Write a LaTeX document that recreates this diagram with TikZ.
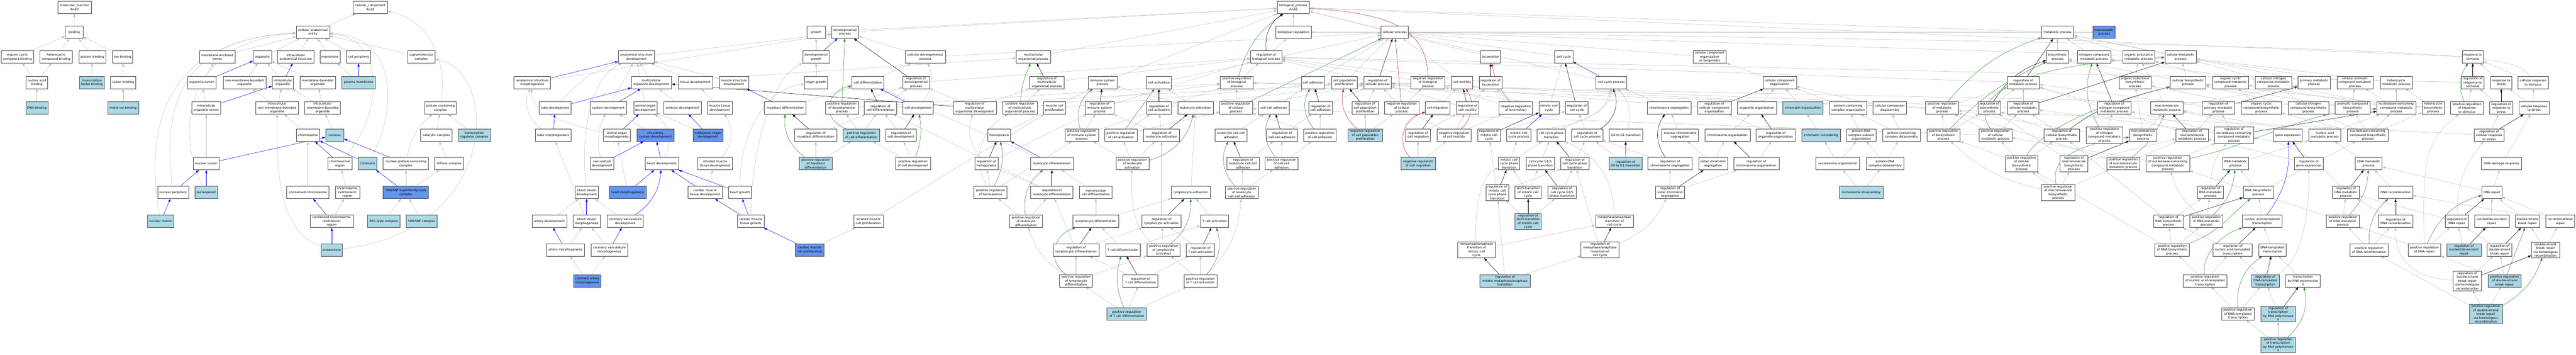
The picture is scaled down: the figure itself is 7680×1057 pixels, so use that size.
\documentclass[tikz,border=0pt]{standalone}
\usepackage{fontspec}
\setmainfont{DejaVu Sans}
\usetikzlibrary{arrows.meta,backgrounds}
\definecolor{hitblue}{HTML}{ADD8E6}
\definecolor{keyblue}{HTML}{6495ED}
\definecolor{edgegray}{HTML}{BEBEBE}
\definecolor{posgreen}{HTML}{228B22}
\definecolor{negred}{HTML}{B22222}
\begin{document}
\begin{tikzpicture}[x=1pt,y=1pt,
    term/.style={draw=black!72,line width=1pt,fill=white,align=center,minimum height=37pt,inner xsep=2pt,inner ysep=2.5pt,font=\fontsize{9.2}{11.5}\selectfont},
    hitterm/.style={term,fill=hitblue},
    keyterm/.style={term,fill=keyblue},
    boxw/.style={minimum width=#1},
    isa/.style={draw=edgegray,line width=0.8pt,-{Triangle[length=9pt,width=6.5pt]}},
    partof/.style={isa,draw=blue},
    reg/.style={isa,draw=black},
    posreg/.style={isa,draw=posgreen},
    negreg/.style={isa,draw=negred}]
\useasboundingbox (0,0) rectangle (7680,-1057);

\node[term,boxw=100] (mf) at (222,-22) {molecular\_function\\Arid2};
\node[term,boxw=55] (binding) at (221,-96) {binding};
\node[term,boxw=97] (orgcyc) at (52,-170) {organic cyclic\\compound binding};
\node[term,boxw=96] (hetcyc) at (167,-170) {heterocyclic\\compound binding};
\node[term,boxw=80] (protbind) at (275,-170) {protein binding};
\node[term,boxw=60] (ionbind) at (366,-170) {ion binding};
\node[term,boxw=64] (nucacid) at (110,-246) {nucleic acid\\binding};
\node[hitterm,boxw=74] (tfbind) at (274,-246) {transcription\\factor binding};
\node[term,boxw=76] (cation) at (367,-246) {cation binding};
\node[hitterm,boxw=66] (dnabind) at (110,-322) {DNA binding};
\node[hitterm,boxw=92] (metalion) at (367,-322) {metal ion binding};

\node[term,boxw=103] (cc) at (1104,-22) {cellular\_component\\Arid2};
\node[term,boxw=100] (cae) at (933,-96) {cellular anatomical\\entity};
\node[term,boxw=107] (mel) at (648,-170) {membrane-enclosed\\lumen};
\node[term,boxw=55] (organelle) at (782,-170) {organelle};
\node[term,boxw=109] (ias) at (882,-170) {intracellular\\anatomical structure};
\node[term,boxw=60] (membrane) at (984,-170) {membrane};
\node[term,boxw=73] (cellperiph) at (1069,-170) {cell periphery};
\node[term,boxw=82] (supramol) at (1256,-170) {supramolecular\\complex};
\node[term,boxw=85] (orglumen) at (602,-246) {organelle lumen};
\node[term,boxw=127] (nmbo) at (729,-246) {non-membrane-bounded\\organelle};
\node[term,boxw=64] (io) at (843,-246) {intracellular\\organelle};
\node[term,boxw=106] (mbo) at (947,-246) {membrane-bounded\\organelle};
\node[hitterm,boxw=99] (plasmamem) at (1069,-246) {plasma membrane};
\node[term,boxw=86] (iol) at (615,-322) {intracellular\\organelle lumen};
\node[term,boxw=128] (inmbo) at (826,-322) {intracellular\\non-membrane-bounded\\organelle};
\node[term,boxw=106] (imbo) at (962,-322) {intracellular\\membrane-bounded\\organelle};
\node[term,boxw=95] (protcomplex) at (1313,-322) {protein-containing\\complex};
\node[term,boxw=70] (chromosome) at (918,-403) {chromosome};
\node[hitterm,boxw=55] (nucleus) at (998,-403) {nucleus};
\node[term,boxw=94] (catalytic) at (1301,-403) {catalytic complex};
\node[hitterm,boxw=96] (transreg) at (1414,-403) {transcription\\regulator complex};
\node[term,boxw=76] (nuclumen) at (615,-488) {nuclear lumen};
\node[term,boxw=72] (chromreg) at (1013,-488) {chromosomal\\region};
\node[hitterm,boxw=55] (chromatin) at (1096,-488) {chromatin};
\node[term,boxw=135] (nucprotcomplex) at (1210,-488) {nuclear protein-containing\\complex};
\node[term,boxw=86] (atpase) at (1339,-488) {ATPase complex};
\node[term,boxw=92] (nucperiph) at (516,-574) {nuclear periphery};
\node[hitterm,boxw=68] (nucleoplasm) at (615,-574) {nucleoplasm};
\node[term,boxw=126] (condchrom) at (918,-574) {condensed chromosome};
\node[term,boxw=72] (chromcent) at (1036,-574) {chromosome,\\centromeric\\region};
\node[keyterm,boxw=135] (swisnfsf) at (1210,-574) {SWI/SNF superfamily-type\\complex};
\node[hitterm,boxw=78] (nucmatrix) at (479,-660) {nuclear matrix};
\node[term,boxw=129] (condchromcent) at (989,-660) {condensed chromosome,\\centromeric\\region};
\node[hitterm,boxw=96] (rsc) at (1144,-660) {RSC-type complex};
\node[hitterm,boxw=92] (swisnf) at (1257,-660) {SWI/SNF complex};
\node[hitterm,boxw=63] (kinetochore) at (989,-745) {kinetochore};

\node[term,boxw=96] (bp) at (3856,-22) {biological\_process\\Arid2};
\node[term,boxw=108] (asd) at (1897,-170) {anatomical structure\\development};
\node[term,boxw=109] (asm) at (1587,-246) {anatomical structure\\morphogenesis};
\node[term,boxw=120] (mod) at (1942,-246) {multicellular\\organism development};
\node[term,boxw=96] (tubedev) at (1655,-322) {tube development};
\node[term,boxw=109] (sysdev) at (1814,-322) {system development};
\node[term,boxw=69] (animorgdev) at (1924,-322) {animal organ\\development};
\node[term,boxw=106] (tubemorph) at (1649,-403) {tube morphogenesis};
\node[term,boxw=81] (aom) at (1839,-403) {animal organ\\morphogenesis};
\node[keyterm,boxw=110] (circsys) at (1954,-403) {circulatory\\system development};
\node[term,boxw=70] (vascdev) at (1795,-488) {vasculature\\development};
\node[term,boxw=70] (bvdev) at (1749,-574) {blood vessel\\development};
\node[keyterm,boxw=110] (heartmorph) at (1871,-574) {heart morphogenesis};
\node[term,boxw=103] (arterydev) at (1638,-660) {artery development};
\node[term,boxw=81] (bvmorph) at (1749,-660) {blood vessel\\morphogenesis};
\node[term,boxw=108] (cvd) at (1864,-660) {coronary vasculature\\development};
\node[term,boxw=114] (arterymorph) at (1686,-745) {artery morphogenesis};
\node[term,boxw=108] (cvm) at (1817,-745) {coronary vasculature\\morphogenesis};
\node[keyterm,boxw=82] (cam) at (1751,-837) {coronary artery\\morphogenesis};

\node[term,boxw=55] (growth) at (2433,-96) {growth};
\node[term,boxw=80] (devproc) at (2519,-96) {developmental\\process};
\node[term,boxw=80] (devgrowth) at (2433,-170) {developmental\\growth};
\node[term,boxw=103] (tissuedev) at (2073,-246) {tissue development};
\node[term,boxw=88] (musclestructdev) at (2188,-246) {muscle structure\\development};
\node[term,boxw=70] (organgrowth) at (2433,-246) {organ growth};
\node[term,boxw=95] (celldiff) at (2587,-246) {cell differentiation};
\node[term,boxw=112] (embryodev) at (2035,-322) {embryo development};
\node[term,boxw=73] (musctissdev) at (2146,-322) {muscle tissue\\development};
\node[term,boxw=125] (myoblastdiff) at (2341,-322) {myoblast differentiation};
\node[term,boxw=98] (posregdevproc) at (2510,-322) {positive regulation\\of developmental\\process};
\node[keyterm,boxw=88] (embryonicorgan) at (2111,-403) {embryonic organ\\development};
\node[term,boxw=125] (regmyoblast) at (2432,-403) {regulation of\\myoblast differentiation};
\node[hitterm,boxw=108] (posregcelldiff) at (2568,-403) {positive regulation\\of cell differentiation};
\node[term,boxw=100] (heartdev) at (1973,-488) {heart development};
\node[term,boxw=103] (striateddev) at (2132,-488) {striated muscle\\tissue development};
\node[hitterm,boxw=99] (posregmyoblast) at (2432,-488) {positive regulation\\of myoblast\\differentiation};
\node[term,boxw=103] (cmtd) at (2102,-574) {cardiac muscle\\tissue development};
\node[term,boxw=68] (heartgrowth) at (2206,-574) {heart growth};
\node[term,boxw=80] (cmtg) at (2238,-660) {cardiac muscle\\tissue growth};
\node[term,boxw=87] (smcp) at (2589,-660) {striated muscle\\cell proliferation};
\node[keyterm,boxw=86] (cmcp) at (2414,-745) {cardiac muscle\\cell proliferation};

\node[term,boxw=119] (cdp) at (2759,-170) {cellular developmental\\process};
\node[term,boxw=102] (mop) at (3081,-170) {multicellular\\organismal process};
\node[term,boxw=80] (regdevproc) at (2731,-246) {regulation of\\developmental\\process};
\node[term,boxw=102] (regmop) at (3121,-246) {regulation of\\multicellular\\organismal process};
\node[term,boxw=96] (regcelldiff) at (2625,-322) {regulation of\\cell differentiation};
\node[term,boxw=90] (celldev) at (2737,-322) {cell development};
\node[term,boxw=129] (regmod) at (2906,-322) {regulation of\\multicellular\\organismal development};
\node[term,boxw=102] (posregmop) at (3041,-322) {positive regulation\\of multicellular\\organismal process};
\node[term,boxw=66] (mcp) at (3144,-322) {muscle cell\\proliferation};
\node[term,boxw=90] (regcelldev) at (2686,-403) {regulation of\\cell development};
\node[term,boxw=68] (hemopoiesis) at (2979,-403) {hemopoiesis};
\node[term,boxw=99] (posregimmune) at (3225,-403) {positive regulation\\of immune system\\process};
\node[term,boxw=104] (posregcelldev) at (2722,-488) {positive regulation\\of cell development};
\node[term,boxw=68] (reghemo) at (2941,-488) {regulation of\\hemopoiesis};
\node[term,boxw=128] (leukdiff) at (3136,-488) {leukocyte differentiation};
\node[term,boxw=98] (posreghemo) at (2953,-574) {positive regulation\\of hemopoiesis};
\node[term,boxw=126] (regleukdiff) at (3136,-574) {regulation of\\leukocyte differentiation};
\node[term,boxw=96] (mononuc) at (3267,-574) {mononuclear\\cell differentiation};
\node[term,boxw=98] (posregleukdiff) at (3059,-660) {positive regulation\\of leukocyte\\differentiation};
\node[term,boxw=136] (lymphodiff) at (3267,-660) {lymphocyte differentiation};
\node[term,boxw=136] (reglymphodiff) at (3208,-745) {regulation of\\lymphocyte differentiation};
\node[term,boxw=98] (posreglymphodiff) at (3208,-837) {positive regulation\\of lymphocyte\\differentiation};

\node[term,boxw=106] (biolreg) at (3856,-96) {biological regulation};
\node[term,boxw=94] (regbioproc) at (3775,-170) {regulation of\\biological process};
\node[term,boxw=86] (immunesys) at (3287,-246) {immune system\\process};
\node[term,boxw=75] (cellact) at (3455,-246) {cell activation};
\node[term,boxw=98] (posregbioproc) at (3687,-246) {positive regulation\\of biological\\process};
\node[term,boxw=86] (regimmune) at (3278,-322) {regulation of\\immune system\\process};
\node[term,boxw=75] (regcellact) at (3455,-322) {regulation of\\cell activation};
\node[term,boxw=106] (leukact) at (3564,-322) {leukocyte activation};
\node[term,boxw=98] (posregcellproc) at (3685,-322) {positive regulation\\of cellular\\process};
\node[term,boxw=92] (cellcelladh) at (3798,-322) {cell-cell adhesion};
\node[term,boxw=98] (posregcellact) at (3342,-403) {positive regulation\\of cell activation};
\node[term,boxw=107] (regleukact) at (3463,-403) {regulation of\\leukocyte activation};
\node[term,boxw=96] (leukcca) at (3670,-403) {leukocyte cell-cell\\adhesion};
\node[term,boxw=93] (regcca) at (3822,-403) {regulation of\\cell-cell adhesion};
\node[term,boxw=98] (posregleukact) at (3376,-488) {positive regulation\\of leukocyte\\activation};
\node[term,boxw=96] (regleukcca) at (3706,-488) {regulation of\\leukocyte cell-cell\\adhesion};
\node[term,boxw=98] (posregcca) at (3821,-488) {positive regulation\\of cell-cell\\adhesion};
\node[term,boxw=117] (lymphoact) at (3550,-574) {lymphocyte activation};
\node[term,boxw=98] (posregleukcca) at (3702,-574) {positive regulation\\of leukocyte\\cell-cell adhesion};
\node[term,boxw=116] (reglymphoact) at (3463,-660) {regulation of\\lymphocyte activation};
\node[term,boxw=84] (tcellact) at (3621,-660) {T cell activation};
\node[term,boxw=104] (tcelldiff) at (3348,-745) {T cell differentiation};
\node[term,boxw=98] (posreglymphoact) at (3469,-745) {positive regulation\\of lymphocyte\\activation};
\node[term,boxw=84] (regtcellact) at (3579,-745) {regulation of\\T cell activation};
\node[term,boxw=104] (regtcelldiff) at (3400,-837) {regulation of\\T cell differentiation};
\node[term,boxw=98] (posregtcellact) at (3579,-837) {positive regulation\\of T cell activation};
\node[hitterm,boxw=118] (posregtcelldiff) at (3359,-936) {positive regulation\\of T cell differentiation};

\node[term,boxw=82] (cellproc) at (4158,-96) {cellular process};
\node[term,boxw=60] (locomotion) at (4444,-170) {locomotion};
\node[term,boxw=70] (celladh) at (3915,-246) {cell adhesion};
\node[term,boxw=78] (cellpopprol) at (4008,-246) {cell population\\proliferation};
\node[term,boxw=82] (regcellproc) at (4107,-246) {regulation of\\cellular process};
\node[term,boxw=102] (negregbioproc) at (4257,-246) {negative regulation\\of biological\\process};
\node[term,boxw=64] (cellmotility) at (4359,-246) {cell motility};
\node[term,boxw=68] (regloco) at (4444,-246) {regulation of\\locomotion};
\node[term,boxw=71] (regcelladh) at (3937,-322) {regulation of\\cell adhesion};
\node[term,boxw=79] (regcellpopprol) at (4070,-322) {regulation of\\cell population\\proliferation};
\node[term,boxw=102] (negregcellproc) at (4179,-322) {negative regulation\\of cellular\\process};
\node[term,boxw=73] (cellmigr) at (4286,-322) {cell migration};
\node[term,boxw=68] (regcellmot) at (4375,-322) {regulation of\\cell motility};
\node[term,boxw=100] (negregloco) at (4519,-322) {negative regulation\\of locomotion};
\node[term,boxw=98] (posregcelladh) at (3935,-403) {positive regulation\\of cell adhesion};
\node[hitterm,boxw=102] (negregcpp) at (4070,-403) {negative regulation\\of cell population\\proliferation};
\node[term,boxw=74] (regcellmigr) at (4228,-403) {regulation of\\cell migration};
\node[term,boxw=102] (negregcellmot) at (4335,-403) {negative regulation\\of cell motility};
\node[term,boxw=68] (regmitcc) at (4439,-403) {regulation of\\mitotic cell\\cycle};
\node[hitterm,boxw=102] (negregcellmigr) at (4228,-488) {negative regulation\\of cell migration};
\node[term,boxw=63] (mitccpt) at (4499,-488) {mitotic cell\\cycle phase\\transition};
\node[term,boxw=68] (regmitccpt) at (4464,-574) {regulation of\\mitotic cell\\cycle phase\\transition};
\node[term,boxw=113] (maitmcc) at (4402,-745) {metaphase/anaphase\\transition of\\mitotic cell\\cycle};
\node[hitterm,boxw=150] (regmitmat) at (4487,-837) {regulation of\\mitotic metaphase/anaphase\\transition};

\node[term,boxw=55] (cellcycle) at (4662,-170) {cell cycle};
\node[term,boxw=99] (ccoob) at (5097,-170) {cellular component\\organization\\or biogenesis};
\node[term,boxw=92] (ccp) at (4804,-246) {cell cycle process};
\node[term,boxw=60] (mitcc) at (4618,-322) {mitotic cell\\cycle};
\node[term,boxw=68] (regcc) at (4701,-322) {regulation of\\cell cycle};
\node[term,boxw=131] (chromseg) at (4976,-322) {chromosome segregation};
\node[term,boxw=100] (regccco) at (5111,-322) {regulation of\\cellular component\\organization};
\node[term,boxw=72] (mitccp) at (4528,-403) {mitotic cell\\cycle process};
\node[term,boxw=85] (ccpt) at (4625,-403) {cell cycle phase\\transition};
\node[term,boxw=93] (regccp) at (4732,-403) {regulation of\\cell cycle process};
\node[term,boxw=99] (g0g1) at (4847,-403) {G0 to G1 transition};
\node[term,boxw=109] (nucchromseg) at (5009,-403) {nuclear chromosome\\segregation};
\node[term,boxw=135] (chromorg) at (5150,-403) {chromosome organization};
\node[term,boxw=84] (ccg1s) at (4592,-488) {cell cycle G1/S\\phase transition};
\node[term,boxw=84] (regccpt) at (4695,-488) {regulation of\\cell cycle phase\\transition};
\node[hitterm,boxw=98] (regg0g1) at (4846,-488) {regulation of\\G0 to G1 transition};
\node[term,boxw=132] (regchromseg) at (4979,-488) {regulation of\\chromosome segregation};
\node[term,boxw=86] (sisterseg) at (5107,-488) {sister chromatid\\segregation};
\node[term,boxw=78] (g1smcc) at (4556,-574) {G1/S transition\\of mitotic cell\\cycle};
\node[term,boxw=84] (regccg1s) at (4657,-574) {regulation of\\cell cycle G1/S\\phase transition};
\node[term,boxw=86] (regsisterseg) at (4979,-574) {regulation of\\sister chromatid\\segregation};
\node[hitterm,boxw=78] (regg1smcc) at (4556,-660) {regulation of\\G1/S transition\\of mitotic cell\\cycle};
\node[term,boxw=112] (macc) at (4813,-660) {metaphase/anaphase\\transition of\\cell cycle};
\node[term,boxw=113] (regmacc) at (4770,-745) {regulation of\\metaphase/anaphase\\transition of\\cell cycle};

\node[term,boxw=100] (cco) at (5306,-246) {cellular component\\organization};
\node[term,boxw=117] (organelleorg) at (5238,-322) {organelle organization};
\node[hitterm,boxw=121] (chromatinorg) at (5375,-322) {chromatin organization};
\node[term,boxw=112] (pcco) at (5510,-322) {protein-containing\\complex organization};
\node[term,boxw=100] (ccdis) at (5634,-322) {cellular component\\disassembly};
\node[term,boxw=117] (regorgorg) at (5294,-403) {regulation of\\organelle organization};
\node[hitterm,boxw=115] (chromremod) at (5429,-403) {chromatin remodeling};
\node[term,boxw=88] (pdnacso) at (5549,-403) {protein-DNA\\complex subunit\\organization};
\node[term,boxw=113] (pcdis) at (5669,-403) {protein-containing\\complex disassembly};
\node[term,boxw=135] (regchromorg) at (5236,-488) {regulation of\\chromosome organization};
\node[term,boxw=131] (nucleosomeorg) at (5479,-488) {nucleosome organization};
\node[term,boxw=113] (pdnadis) at (5620,-488) {protein-DNA\\complex disassembly};
\node[hitterm,boxw=131] (nucleosomedis) at (5549,-574) {nucleosome disassembly};

\node[term,boxw=96] (metproc) at (6134,-96) {metabolic process};
\node[keyterm,boxw=66] (homeostatic) at (6273,-96) {homeostatic\\process};
\node[term,boxw=66] (biosynproc) at (6134,-170) {biosynthetic\\process};
\node[term,boxw=100] (ncmp) at (6243,-170) {nitrogen compound\\metabolic process};
\node[term,boxw=96] (osmp) at (6376,-170) {organic substance\\metabolic process};
\node[term,boxw=96] (regmetproc) at (6032,-246) {regulation of\\metabolic process};
\node[term,boxw=95] (osbp) at (6365,-246) {organic substance\\biosynthetic\\process};
\node[term,boxw=98] (posregmetproc) at (5790,-322) {positive regulation\\of metabolic\\process};
\node[term,boxw=67] (regbiosyn) at (5931,-322) {regulation of\\biosynthetic\\process};
\node[term,boxw=94] (regcellmet) at (6032,-322) {regulation of\\cellular metabolic\\process};
\node[term,boxw=100] (regncmp) at (6304,-322) {regulation of\\nitrogen compound\\metabolic process};
\node[term,boxw=98] (posregbiosyn) at (5794,-403) {positive regulation\\of biosynthetic\\process};
\node[term,boxw=98] (posregcellmet) at (5949,-403) {positive regulation\\of cellular\\metabolic process};
\node[term,boxw=106] (regcellbiosyn) at (6147,-403) {regulation of\\cellular biosynthetic\\process};
\node[term,boxw=109] (posregncmp) at (6274,-403) {positive regulation\\of nitrogen\\compound metabolic\\process};
\node[term,boxw=82] (macrobiosyn) at (6389,-403) {macromolecule\\biosynthetic\\process};
\node[term,boxw=98] (posregcellbiosyn) at (6027,-488) {positive regulation\\of cellular\\biosynthetic\\process};
\node[term,boxw=82] (regmacrobiosyn) at (6183,-488) {regulation of\\macromolecule\\biosynthetic\\process};
\node[term,boxw=98] (posregmacromet) at (6330,-488) {positive regulation\\of macromolecule\\metabolic process};
\node[term,boxw=131] (posregnbcmp) at (6463,-488) {positive regulation\\of nucleobase-containing\\compound metabolic\\process};
\node[term,boxw=99] (posregmacrobiosyn) at (6136,-574) {positive regulation\\of macromolecule\\biosynthetic\\process};

\node[term,boxw=94] (cellmetproc) at (6501,-170) {cellular metabolic\\process};
\node[term,boxw=106] (cellbiosyn) at (6523,-246) {cellular biosynthetic\\process};
\node[term,boxw=108] (occmp) at (6650,-246) {organic cyclic\\compound metabolic\\process};
\node[term,boxw=108] (cncmp) at (6778,-246) {cellular nitrogen\\compound metabolic\\process};
\node[term,boxw=96] (primmet) at (6899,-246) {primary metabolic\\process};
\node[term,boxw=108] (cacmp) at (7021,-246) {cellular aromatic\\compound metabolic\\process};
\node[term,boxw=96] (macromet) at (6460,-322) {macromolecule\\metabolic process};
\node[term,boxw=96] (regprimmet) at (6614,-322) {regulation of\\primary metabolic\\process};
\node[term,boxw=120] (occbp) at (6742,-322) {organic cyclic\\compound biosynthetic\\process};
\node[term,boxw=121] (cncbp) at (6882,-322) {cellular nitrogen\\compound biosynthetic\\process};
\node[term,boxw=104] (acbp) at (7014,-322) {aromatic compound\\biosynthetic\\process};
\node[term,boxw=96] (regmacromet) at (6535,-403) {regulation of\\macromolecule\\metabolic process};
\node[term,boxw=117] (regnbcmp) at (6660,-403) {regulation of\\nucleobase-containing\\compound metabolic\\process};
\node[term,boxw=86] (geneexpr) at (6821,-403) {gene expression};
\node[term,boxw=96] (nametproc) at (6931,-403) {nucleic acid\\metabolic process};
\node[term,boxw=121] (nbcbp) at (7059,-403) {nucleobase-containing\\compound biosynthetic\\process};
\node[term,boxw=78] (rnamet) at (6665,-488) {RNA metabolic\\process};
\node[term,boxw=86] (reggeneexpr) at (6883,-488) {regulation of\\gene expression};
\node[term,boxw=80] (dnamet) at (7062,-488) {DNA metabolic\\process};
\node[term,boxw=78] (regrnamet) at (6590,-574) {regulation of\\RNA metabolic\\process};
\node[term,boxw=91] (rnabiosyn) at (6733,-574) {RNA biosynthetic\\process};
\node[term,boxw=80] (regdnamet) at (6994,-574) {regulation of\\DNA metabolic\\process};
\node[term,boxw=89] (regrnabiosyn) at (6465,-660) {regulation of\\RNA biosynthetic\\process};
\node[term,boxw=98] (posregrnamet) at (6578,-660) {positive regulation\\of RNA metabolic\\process};
\node[term,boxw=119] (natt) at (6744,-660) {nucleic acid-templated\\transcription};
\node[term,boxw=98] (posregdnamet) at (6985,-660) {positive regulation\\of DNA metabolic\\process};
\node[term,boxw=103] (posregrnabiosyn) at (6476,-745) {positive regulation\\of RNA biosynthetic\\process};
\node[term,boxw=118] (regnatt) at (6656,-745) {regulation of\\nucleic acid-templated\\transcription};
\node[term,boxw=82] (dnatt) at (6775,-745) {DNA-templated\\transcription};
\node[term,boxw=115] (posregdnarecomb) at (7063,-745) {positive regulation\\of DNA recombination};
\node[term,boxw=131] (posregnatt) at (6574,-837) {positive regulation\\of nucleic acid-templated\\transcription};
\node[hitterm,boxw=82] (regdnatt) at (6754,-837) {regulation of\\DNA-templated\\transcription};
\node[term,boxw=103] (transrnapol) at (6866,-837) {transcription\\by RNA polymerase\\II};
\node[term,boxw=98] (posregdnatt) at (6672,-936) {positive regulation\\of DNA-templated\\transcription};
\node[hitterm,boxw=103] (regtransrnapol) at (6792,-936) {regulation of\\transcription\\by RNA polymerase\\II};
\node[hitterm,boxw=103] (posregtransrnapol) at (6792,-1028) {positive regulation\\of transcription\\by RNA polymerase\\II};

\node[term,boxw=63] (respstim) at (7372,-170) {response to\\stimulus};
\node[term,boxw=96] (heterocyclemet) at (7144,-246) {heterocycle\\metabolic process};
\node[term,boxw=67] (regrespstim) at (7372,-246) {regulation of\\response to\\stimulus};
\node[term,boxw=63] (respstress) at (7457,-246) {response to\\stress};
\node[term,boxw=90] (cellrespstim) at (7552,-246) {cellular response\\to stimulus};
\node[term,boxw=116] (nbcmp) at (7144,-322) {nucleobase-containing\\compound metabolic\\process};
\node[term,boxw=66] (heterocyclebiosyn) at (7254,-322) {heterocycle\\biosynthetic\\process};
\node[term,boxw=98] (posregrespstim) at (7355,-322) {positive regulation\\of response\\to stimulus};
\node[term,boxw=68] (regrespstress) at (7457,-322) {regulation of\\response to\\stress};
\node[term,boxw=90] (cellrespstress) at (7555,-322) {cellular response\\to stress};
\node[term,boxw=90] (regcellrespstress) at (7421,-403) {regulation of\\cellular response\\to stress};
\node[term,boxw=119] (dnadamage) at (7458,-488) {DNA damage response};
\node[term,boxw=102] (dnarecomb) at (7142,-574) {DNA recombination};
\node[term,boxw=60] (dnarepair) at (7429,-574) {DNA repair};
\node[term,boxw=102] (regdnarecomb) at (7142,-660) {regulation of\\DNA recombination};
\node[term,boxw=68] (regdnarepair) at (7325,-660) {regulation of\\DNA repair};
\node[term,boxw=102] (ner) at (7429,-660) {nucleotide-excision\\repair};
\node[term,boxw=73] (dsbr) at (7535,-660) {double-strand\\break repair};
\node[term,boxw=86] (recombrepair) at (7633,-660) {recombinational\\repair};
\node[term,boxw=98] (posregdnarepair) at (7228,-745) {positive regulation\\of DNA repair};
\node[hitterm,boxw=103] (regner) at (7346,-745) {regulation of\\nucleotide-excision\\repair};
\node[term,boxw=74] (regdsbr) at (7452,-745) {regulation of\\double-strand\\break repair};
\node[term,boxw=84] (dsbrhr) at (7589,-745) {double-strand\\break repair\\via homologous\\recombination};
\node[term,boxw=85] (regdsbrhr) at (7356,-837) {regulation of\\double-strand\\break repair\\via homologous\\recombination};
\node[hitterm,boxw=98] (posregdsbr) at (7467,-837) {positive regulation\\of double-strand\\break repair};
\node[hitterm,boxw=98] (posregdsbrhr) at (7411,-936) {positive regulation\\of double-strand\\break repair\\via homologous\\recombination};

\begin{scope}[on background layer]
\fill[white] (0,0) rectangle (7680,-1057);

\draw[isa] (binding) -- (mf);
\draw[isa] (orgcyc) -- (binding);
\draw[isa] (hetcyc) -- (binding);
\draw[isa] (protbind) -- (binding);
\draw[isa] (ionbind) -- (binding);
\draw[isa] (nucacid) -- (orgcyc);
\draw[isa] (nucacid) -- (hetcyc);
\draw[isa] (tfbind) -- (protbind);
\draw[isa] (cation) -- (ionbind);
\draw[isa] (dnabind) -- (nucacid);
\draw[isa] (metalion) -- (cation);

\draw[isa] (cae) -- (cc);
\draw[isa] (protcomplex) .. controls (1335,-150) and (1260,-55) .. (cc);
\draw[isa] (mel) -- (cae);
\draw[isa] (nucmatrix) .. controls (441,-450) and (441,-120) .. (cae);
\draw[isa] (nucperiph) .. controls (493,-380) and (493,-115) .. (cae);
\draw[isa] (nucleoplasm) .. controls (531,-420) and (531,-125) .. (cae);
\draw[isa] (organelle) -- (cae);
\draw[isa] (ias) -- (cae);
\draw[isa] (membrane) -- (cae);
\draw[isa] (cellperiph) -- (cae);
\draw[isa] (supramol) -- (cae);
\draw[isa] (chromreg) .. controls (1147,-330) and (1147,-115) .. (cae);
\draw[isa] (chromatin) .. controls (1186,-330) and (1186,-110) .. (cae);
\draw[isa] (orglumen) -- (mel);
\draw[partof] (orglumen) -- (organelle);
\draw[isa] (iol) -- (orglumen);
\draw[partof] (iol) -- (io);
\draw[isa] (nuclumen) -- (iol);
\draw[partof] (nuclumen) -- (nucleus);
\draw[partof] (nucperiph) -- (nuclumen);
\draw[partof] (nucleoplasm) -- (nuclumen);
\draw[partof] (nucmatrix) -- (nucperiph);
\draw[isa] (nmbo) -- (organelle);
\draw[isa] (io) -- (organelle);
\draw[isa] (mbo) -- (organelle);
\draw[partof] (io) -- (ias);
\draw[isa] (plasmamem) -- (membrane);
\draw[partof] (plasmamem) -- (cellperiph);
\draw[isa] (inmbo) -- (nmbo);
\draw[isa] (inmbo) -- (io);
\draw[isa] (imbo) -- (io);
\draw[isa] (imbo) -- (mbo);
\draw[isa] (chromosome) -- (inmbo);
\draw[isa] (nucleus) -- (imbo);
\draw[partof] (chromreg) -- (chromosome);
\draw[partof] (chromatin) -- (chromosome);
\draw[partof] (nucprotcomplex) -- (nucleus);
\draw[isa] (nucprotcomplex) to[bend left=20] (protcomplex);
\draw[isa] (condchrom) -- (chromosome);
\draw[isa] (chromcent) -- (chromreg);
\draw[partof] (swisnfsf) -- (chromatin);
\draw[isa] (swisnfsf) -- (nucprotcomplex);
\draw[isa] (swisnfsf) -- (atpase);
\draw[isa] (catalytic) -- (protcomplex);
\draw[isa] (transreg) -- (protcomplex);
\draw[isa] (atpase) -- (catalytic);
\draw[partof] (condchromcent) -- (condchrom);
\draw[isa] (condchromcent) -- (chromcent);
\draw[isa] (rsc) -- (swisnfsf);
\draw[isa] (swisnf) -- (swisnfsf);
\draw[partof] (kinetochore) -- (condchromcent);
\draw[isa] (kinetochore) .. controls (826,-690) and (826,-500) .. (inmbo);
\draw[isa] (kinetochore) .. controls (1490,-690) and (1490,-210) .. (supramol);

\draw[partof] (asm) -- (asd);
\draw[isa] (asm) -- (devproc);
\draw[isa] (asd) -- (devproc);
\draw[isa] (devproc) -- (bp);
\draw[isa] (growth) -- (bp);
\draw[isa] (mod) -- (asd);
\draw[isa] (mod) -- (mop);
\draw[isa] (tubedev) to[bend left=15] (asd);
\draw[partof] (tubedev) -- (mod);
\draw[isa] (sysdev) -- (asd);
\draw[partof] (sysdev) -- (mod);
\draw[isa] (animorgdev) -- (asd);
\draw[isa] (tissuedev) -- (asd);
\draw[isa] (musclestructdev) -- (asd);
\draw[isa] (bvdev) .. controls (1730,-400) and (1760,-230) .. (asd);
\draw[isa] (vascdev) to[bend left=20] (sysdev);
\draw[partof] (vascdev) -- (circsys);
\draw[isa] (tubemorph) to[bend left=40] (asm);
\draw[partof] (tubemorph) -- (tubedev);
\draw[isa] (aom) .. controls (1680,-370) and (1580,-330) .. (asm);
\draw[partof] (aom) -- (animorgdev);
\draw[isa] (circsys) -- (sysdev);
\draw[isa] (heartmorph) -- (aom);
\draw[partof] (heartmorph) -- (heartdev);
\draw[isa] (arterydev) -- (bvdev);
\draw[partof] (bvmorph) -- (bvdev);
\draw[isa] (bvmorph) -- (tubemorph);
\draw[isa] (cvd) -- (bvdev);
\draw[partof] (cvd) to[bend right=25] (heartdev);
\draw[partof] (arterymorph) -- (arterydev);
\draw[isa] (arterymorph) -- (bvmorph);
\draw[isa] (cvm) -- (bvmorph);
\draw[partof] (cvm) -- (cvd);
\draw[isa] (cam) -- (arterymorph);
\draw[isa] (cam) -- (cvm);
\draw[isa] (embryodev) -- (mod);
\draw[isa] (musctissdev) -- (tissuedev);
\draw[partof] (embryonicorgan) -- (embryodev);
\draw[isa] (embryonicorgan) -- (animorgdev);
\draw[isa] (heartdev) to[bend right=40] (animorgdev);
\draw[partof] (heartdev) -- (circsys);
\draw[isa] (striateddev) to[bend right=40] (musctissdev);
\draw[partof] (cmtd) -- (heartdev);
\draw[isa] (cmtd) -- (striateddev);
\draw[partof] (heartgrowth) -- (heartdev);
\draw[isa] (heartgrowth) .. controls (2205,-400) and (2280,-265) .. (organgrowth);
\draw[partof] (cmtg) -- (cmtd);
\draw[partof] (cmtg) -- (heartgrowth);
\draw[isa] (cmtg) .. controls (2240,-450) and (2300,-230) .. (devgrowth);
\draw[partof] (cmcp) -- (cmtg);
\draw[isa] (cmcp) -- (smcp);
\draw[isa] (devgrowth) -- (growth);
\draw[partof] (devgrowth) -- (devproc);
\draw[isa] (organgrowth) -- (devgrowth);
\draw[partof] (myoblastdiff) -- (musclestructdev);
\draw[isa] (myoblastdiff) -- (celldiff);
\draw[reg] (regmyoblast) -- (myoblastdiff);
\draw[isa] (regmyoblast) -- (regcelldiff);
\draw[isa] (posregmyoblast) -- (regmyoblast);
\draw[posreg] (posregmyoblast) to[bend left=30] (myoblastdiff);
\draw[isa] (posregmyoblast) -- (posregcelldiff);
\draw[isa] (posregcelldiff) -- (posregdevproc);
\draw[posreg] (posregcelldiff) .. controls (2440,-350) and (2470,-270) .. (celldiff);
\draw[isa] (posregcelldiff) -- (regcelldiff);
\draw[posreg] (posregdevproc) -- (devproc);
\draw[isa] (posregdevproc) -- (regdevproc);
\draw[isa] (posregdevproc) -- (posregbioproc);
\draw[reg] (regmod) -- (mod);
\draw[reg] (regdevproc) -- (devproc);
\draw[isa] (cdp) -- (devproc);
\draw[isa] (cdp) -- (cellproc);
\draw[isa] (celldiff) -- (cdp);
\draw[isa] (regdevproc) -- (regbioproc);
\draw[reg] (regcelldiff) -- (celldiff);
\draw[isa] (regcelldiff) -- (regdevproc);
\draw[isa] (regcelldiff) -- (regcellproc);
\draw[partof] (celldev) -- (celldiff);
\draw[isa] (celldev) to[bend right=30] (cdp);
\draw[reg] (regcelldev) -- (celldev);
\draw[isa] (regcelldev) -- (regcelldiff);
\draw[posreg] (posregcelldev) to[bend right=15] (celldev);
\draw[isa] (posregcelldev) -- (regcelldev);
\draw[isa] (posregcelldev) -- (posregcelldiff);
\draw[isa] (mop) -- (bp);
\draw[reg] (regmop) -- (mop);
\draw[isa] (regmop) -- (regbioproc);
\draw[isa] (regmod) -- (regdevproc);
\draw[isa] (regmod) -- (regmop);
\draw[posreg] (posregmop) to[bend left=10] (mop);
\draw[isa] (posregmop) -- (regmop);
\draw[isa] (posregmop) -- (posregbioproc);
\draw[isa] (mcp) -- (cellpopprol);
\draw[isa] (smcp) -- (mcp);
\draw[isa] (hemopoiesis) -- (immunesys);
\draw[reg] (reghemo) -- (hemopoiesis);
\draw[isa] (reghemo) to[bend left=30] (regmod);
\draw[isa] (reghemo) -- (regimmune);
\draw[isa] (posreghemo) -- (reghemo);
\draw[posreg] (posreghemo) to[bend right=20] (hemopoiesis);
\draw[isa] (posreghemo) .. controls (2883,-450) and (2950,-370) .. (posregmop);
\draw[isa] (posreghemo) -- (posregimmune);
\draw[partof] (leukdiff) -- (hemopoiesis);
\draw[isa] (leukdiff) -- (celldiff);
\draw[reg] (regleukdiff) -- (leukdiff);
\draw[isa] (regleukdiff) -- (reghemo);
\draw[isa] (regleukdiff) -- (regcelldiff);
\draw[isa] (posregleukdiff) -- (regleukdiff);
\draw[posreg] (posregleukdiff) to[bend left=30] (leukdiff);
\draw[isa] (posregleukdiff) -- (posreghemo);
\draw[isa] (mononuc) -- (leukdiff);
\draw[isa] (lymphodiff) -- (mononuc);
\draw[isa] (lymphodiff) -- (lymphoact);
\draw[reg] (reglymphodiff) -- (lymphodiff);
\draw[isa] (reglymphodiff) -- (regleukdiff);
\draw[isa] (reglymphodiff) -- (reglymphoact);
\draw[isa] (posreglymphodiff) -- (reglymphodiff);
\draw[posreg] (posreglymphodiff) .. controls (3120,-780) and (3140,-700) .. (lymphodiff);
\draw[isa] (posreglymphodiff) to[bend left=20] (posregleukdiff);
\draw[isa] (posreglymphodiff) -- (posreglymphoact);
\draw[isa] (tcelldiff) -- (lymphodiff);
\draw[isa] (tcelldiff) -- (tcellact);
\draw[reg] (regtcelldiff) -- (tcelldiff);
\draw[isa] (regtcelldiff) -- (reglymphodiff);
\draw[isa] (regtcelldiff) -- (regtcellact);
\draw[isa] (posregtcelldiff) -- (regtcelldiff);
\draw[posreg] (posregtcelldiff) to[bend left=20] (tcelldiff);
\draw[isa] (posregtcelldiff) -- (posreglymphodiff);
\draw[isa] (posregtcelldiff) -- (posregtcellact);
\draw[isa] (tcellact) -- (lymphoact);
\draw[reg] (regtcellact) -- (tcellact);
\draw[isa] (regtcellact) -- (reglymphoact);
\draw[isa] (posregtcellact) -- (regtcellact);
\draw[posreg] (posregtcellact) to[bend right=30] (tcellact);
\draw[isa] (posregtcellact) to[bend right=20] (posregleukcca);
\draw[isa] (posregtcellact) -- (posreglymphoact);
\draw[isa] (posreglymphoact) -- (reglymphoact);
\draw[posreg] (posreglymphoact) to[bend right=25] (lymphoact);
\draw[isa] (posreglymphoact) .. controls (3380,-690) and (3370,-600) .. (posregleukact);
\draw[reg] (reglymphoact) -- (lymphoact);
\draw[isa] (reglymphoact) -- (regleukact);
\draw[isa] (lymphoact) -- (leukact);
\draw[isa] (posregleukact) -- (regleukact);
\draw[posreg] (posregleukact) to[bend right=30] (leukact);
\draw[isa] (posregleukact) -- (posregcellact);
\draw[isa] (posregleukact) -- (posregimmune);
\draw[reg] (regleukact) -- (leukact);
\draw[isa] (regleukact) -- (regcellact);
\draw[isa] (regleukact) -- (regimmune);
\draw[isa] (posregcellact) -- (regcellact);
\draw[posreg] (posregcellact) -- (cellact);
\draw[isa] (posregcellact) -- (posregcellproc);
\draw[isa] (leukact) -- (cellact);
\draw[isa] (leukact) -- (immunesys);
\draw[reg] (regcellact) -- (cellact);
\draw[isa] (regcellact) -- (regcellproc);
\draw[reg] (regimmune) -- (immunesys);
\draw[isa] (regimmune) -- (regbioproc);
\draw[isa] (posregimmune) -- (regimmune);
\draw[posreg] (posregimmune) to[bend left=35] (immunesys);
\draw[isa] (posregimmune) -- (posregbioproc);
\draw[isa] (immunesys) -- (bp);
\draw[isa] (cellact) -- (cellproc);
\draw[isa] (posregbioproc) -- (regbioproc);
\draw[posreg] (posregbioproc) to[bend left=20] (bp);
\draw[isa] (regbioproc) -- (biolreg);
\draw[reg] (regbioproc) to[bend left=30] (bp);
\draw[isa] (biolreg) -- (bp);
\draw[isa] (posregcellproc) -- (posregbioproc);
\draw[isa] (posregcellproc) -- (regcellproc);
\draw[posreg] (posregcellproc) -- (cellproc);
\draw[isa] (cellcelladh) -- (celladh);
\draw[isa] (leukcca) -- (cellcelladh);
\draw[reg] (regcca) -- (cellcelladh);
\draw[isa] (regcca) -- (regcelladh);
\draw[reg] (regleukcca) -- (leukcca);
\draw[isa] (regleukcca) -- (regcca);
\draw[isa] (posregcca) -- (regcca);
\draw[posreg] (posregcca) to[bend left=35] (cellcelladh);
\draw[isa] (posregcca) -- (posregcelladh);
\draw[isa] (posregleukcca) -- (regleukcca);
\draw[posreg] (posregleukcca) to[bend left=35] (leukcca);
\draw[isa] (posregleukcca) -- (posregcca);

\draw[isa] (cellproc) -- (bp);
\draw[isa] (celladh) -- (cellproc);
\draw[isa] (cellpopprol) -- (cellproc);
\draw[reg] (regcellproc) -- (cellproc);
\draw[isa] (regcellproc) -- (regbioproc);
\draw[isa] (negregbioproc) -- (regbioproc);
\draw[negreg] (negregbioproc) .. controls (4255,-90) and (4150,-40) .. (bp);
\draw[isa] (cellmotility) -- (cellproc);
\draw[isa] (locomotion) -- (bp);
\draw[reg] (regloco) -- (locomotion);
\draw[isa] (regloco) -- (regbioproc);
\draw[reg] (regcelladh) -- (celladh);
\draw[isa] (regcelladh) -- (regcellproc);
\draw[reg] (regcellpopprol) -- (cellpopprol);
\draw[isa] (regcellpopprol) -- (regcellproc);
\draw[isa] (negregcellproc) -- (regcellproc);
\draw[isa] (negregcellproc) -- (negregbioproc);
\draw[negreg] (negregcellproc) -- (cellproc);
\draw[isa] (cellmigr) -- (cellmotility);
\draw[reg] (regcellmot) -- (cellmotility);
\draw[isa] (regcellmot) -- (regloco);
\draw[isa] (regcellmot) -- (regcellproc);
\draw[negreg] (negregloco) to[bend left=15] (locomotion);
\draw[isa] (negregloco) -- (regloco);
\draw[isa] (negregloco) -- (negregbioproc);
\draw[isa] (posregcelladh) -- (regcelladh);
\draw[posreg] (posregcelladh) to[bend left=35] (celladh);
\draw[isa] (posregcelladh) -- (posregcellproc);
\draw[isa] (negregcpp) -- (regcellpopprol);
\draw[negreg] (negregcpp) to[bend left=30] (cellpopprol);
\draw[isa] (negregcpp) -- (negregcellproc);
\draw[reg] (regcellmigr) -- (cellmigr);
\draw[isa] (regcellmigr) -- (regcellmot);
\draw[isa] (negregcellmot) -- (regcellmot);
\draw[negreg] (negregcellmot) to[bend right=40] (cellmotility);
\draw[isa] (negregcellmot) -- (negregloco);
\draw[isa] (negregcellmot) -- (negregcellproc);
\draw[isa] (negregcellmigr) -- (regcellmigr);
\draw[isa] (negregcellmigr) -- (negregcellmot);
\draw[negreg] (negregcellmigr) .. controls (4170,-440) and (4170,-360) .. (cellmigr);
\draw[reg] (regmitcc) -- (mitcc);
\draw[isa] (regmitcc) -- (regcc);
\draw[isa] (mitccpt) -- (mitccp);
\draw[isa] (mitccpt) -- (ccpt);
\draw[reg] (regmitccpt) -- (mitccpt);
\draw[isa] (regmitccpt) -- (regmitcc);
\draw[isa] (regmitccpt) -- (regccpt);
\draw[isa] (maitmcc) .. controls (4395,-600) and (4420,-520) .. (mitccpt);
\draw[isa] (maitmcc) -- (macc);
\draw[reg] (regmitmat) -- (maitmcc);
\draw[isa] (regmitmat) -- (regmitccpt);
\draw[isa] (regmitmat) -- (regmacc);

\draw[isa] (cellcycle) -- (cellproc);
\draw[partof] (ccp) -- (cellcycle);
\draw[isa] (ccp) -- (cellproc);
\draw[isa] (mitcc) -- (cellcycle);
\draw[reg] (regcc) -- (cellcycle);
\draw[isa] (regcc) -- (regcellproc);
\draw[partof] (mitccp) -- (mitcc);
\draw[isa] (mitccp) .. controls (4600,-380) and (4780,-380) .. (ccp);
\draw[isa] (ccpt) .. controls (4700,-360) and (4800,-340) .. (ccp);
\draw[reg] (regccp) to[bend right=40] (ccp);
\draw[isa] (regccp) -- (regcc);
\draw[isa] (g0g1) to[bend right=30] (ccp);
\draw[isa] (chromseg) -- (ccp);
\draw[reg] (regccco) -- (cco);
\draw[isa] (regccco) -- (regcellproc);
\draw[isa] (chromorg) -- (organelleorg);
\draw[isa] (nucchromseg) -- (chromseg);
\draw[isa] (ccg1s) -- (ccpt);
\draw[reg] (regccpt) -- (ccpt);
\draw[isa] (regccpt) -- (regccp);
\draw[reg] (regg0g1) -- (g0g1);
\draw[isa] (regg0g1) -- (regccp);
\draw[reg] (regchromseg) to[bend left=35] (chromseg);
\draw[isa] (regchromseg) -- (regccp);
\draw[isa] (sisterseg) -- (nucchromseg);
\draw[isa] (sisterseg) -- (chromorg);
\draw[isa] (g1smcc) -- (ccg1s);
\draw[isa] (g1smcc) -- (mitccpt);
\draw[reg] (regccg1s) -- (ccg1s);
\draw[isa] (regccg1s) -- (regccpt);
\draw[reg] (regsisterseg) -- (sisterseg);
\draw[isa] (regsisterseg) -- (regchromseg);
\draw[isa] (regsisterseg) -- (regchromorg);
\draw[reg] (regg1smcc) -- (g1smcc);
\draw[isa] (regg1smcc) -- (regccg1s);
\draw[isa] (regg1smcc) -- (regmitccpt);
\draw[isa] (macc) .. controls (4810,-520) and (4750,-460) .. (ccpt);
\draw[reg] (regmacc) -- (macc);
\draw[isa] (regmacc) -- (regccpt);
\draw[isa] (regmacc) to[bend right=20] (regsisterseg);
\draw[isa] (ccoob) -- (cellproc);
\draw[isa] (cco) -- (ccoob);
\draw[isa] (organelleorg) -- (cco);
\draw[isa] (chromatinorg) -- (cco);
\draw[isa] (pcco) -- (cco);
\draw[isa] (ccdis) -- (cco);
\draw[reg] (regorgorg) -- (organelleorg);
\draw[isa] (regorgorg) -- (regccco);
\draw[isa] (chromremod) -- (chromatinorg);
\draw[isa] (pdnacso) -- (pcco);
\draw[isa] (pcdis) -- (pcco);
\draw[isa] (pcdis) -- (ccdis);
\draw[reg] (regchromorg) -- (chromorg);
\draw[isa] (regchromorg) -- (regorgorg);
\draw[isa] (nucleosomeorg) -- (chromremod);
\draw[isa] (nucleosomeorg) -- (pdnacso);
\draw[isa] (pdnadis) -- (pdnacso);
\draw[isa] (pdnadis) -- (pcdis);
\draw[isa] (nucleosomedis) -- (nucleosomeorg);
\draw[isa] (nucleosomedis) -- (pdnadis);

\draw[isa] (metproc) -- (bp);
\draw[isa] (homeostatic) -- (biolreg);
\draw[isa] (biosynproc) -- (metproc);
\draw[isa] (ncmp) -- (metproc);
\draw[isa] (osmp) -- (metproc);
\draw[reg] (regmetproc) -- (metproc);
\draw[isa] (regmetproc) -- (regbioproc);
\draw[isa] (osbp) -- (osmp);
\draw[isa] (osbp) -- (biosynproc);
\draw[reg] (regbiosyn) to[bend left=20] (biosynproc);
\draw[isa] (regbiosyn) -- (regmetproc);
\draw[isa] (regcellmet) -- (regmetproc);
\draw[reg] (regcellmet) -- (cellmetproc);
\draw[isa] (regcellmet) -- (regcellproc);
\draw[reg] (regncmp) -- (ncmp);
\draw[isa] (regncmp) -- (regmetproc);
\draw[isa] (posregmetproc) -- (regmetproc);
\draw[posreg] (posregmetproc) to[bend left=15] (metproc);
\draw[isa] (posregmetproc) -- (posregbioproc);
\draw[isa] (posregbiosyn) -- (posregmetproc);
\draw[isa] (posregbiosyn) -- (regbiosyn);
\draw[posreg] (posregbiosyn) to[bend left=10] (biosynproc);
\draw[isa] (posregcellmet) -- (regcellmet);
\draw[isa] (posregcellmet) -- (posregmetproc);
\draw[posreg] (posregcellmet) .. controls (5870,-300) and (5990,-190) .. (cellmetproc);
\draw[isa] (posregcellmet) -- (posregcellproc);
\draw[isa] (regcellbiosyn) -- (regcellmet);
\draw[isa] (regcellbiosyn) -- (regbiosyn);
\draw[reg] (regcellbiosyn) .. controls (6230,-340) and (6300,-300) .. (cellbiosyn);
\draw[isa] (posregncmp) -- (regncmp);
\draw[posreg] (posregncmp) to[bend left=25] (ncmp);
\draw[isa] (posregncmp) -- (posregmetproc);
\draw[isa] (macrobiosyn) -- (osbp);
\draw[isa] (macrobiosyn) -- (macromet);
\draw[isa] (posregcellbiosyn) -- (regcellbiosyn);
\draw[isa] (posregcellbiosyn) -- (posregcellmet);
\draw[isa] (posregcellbiosyn) -- (posregbiosyn);
\draw[posreg] (posregcellbiosyn) .. controls (6100,-370) and (6300,-300) .. (cellbiosyn);
\draw[reg] (regmacrobiosyn) -- (macrobiosyn);
\draw[isa] (regmacrobiosyn) -- (regbiosyn);
\draw[isa] (regmacrobiosyn) -- (regmacromet);
\draw[isa] (posregmacromet) -- (regmacromet);
\draw[isa] (posregmacromet) -- (posregmetproc);
\draw[posreg] (posregmacromet) to[bend right=15] (macromet);
\draw[isa] (posregmacrobiosyn) -- (regmacrobiosyn);
\draw[posreg] (posregmacrobiosyn) .. controls (6110,-470) and (6200,-430) .. (macrobiosyn);
\draw[isa] (posregmacrobiosyn) -- (posregmacromet);
\draw[isa] (posregmacrobiosyn) -- (posregcellbiosyn);
\draw[isa] (posregmacrobiosyn) to[bend left=15] (posregbiosyn);
\draw[isa] (cellmetproc) -- (metproc);
\draw[isa] (cellmetproc) -- (cellproc);
\draw[isa] (cellbiosyn) -- (cellmetproc);
\draw[isa] (cellbiosyn) -- (biosynproc);
\draw[isa] (occmp) -- (osmp);
\draw[isa] (cncmp) -- (cellmetproc);
\draw[isa] (cncmp) -- (ncmp);
\draw[isa] (primmet) -- (metproc);
\draw[isa] (cacmp) -- (cellmetproc);
\draw[isa] (macromet) -- (osmp);
\draw[isa] (macromet) -- (primmet);
\draw[reg] (regprimmet) -- (primmet);
\draw[isa] (regprimmet) -- (regmetproc);
\draw[isa] (occbp) -- (occmp);
\draw[isa] (occbp) -- (osbp);
\draw[isa] (cncbp) -- (cncmp);
\draw[isa] (cncbp) -- (cellbiosyn);
\draw[isa] (acbp) -- (cacmp);
\draw[isa] (acbp) -- (cellbiosyn);
\draw[reg] (regmacromet) -- (macromet);
\draw[isa] (regmacromet) -- (regmetproc);
\draw[isa] (regmacromet) -- (regprimmet);
\draw[reg] (regnbcmp) -- (nbcmp);
\draw[isa] (regnbcmp) -- (regprimmet);
\draw[isa] (regnbcmp) -- (regcellmet);
\draw[isa] (regnbcmp) -- (regncmp);
\draw[isa] (geneexpr) -- (macromet);
\draw[isa] (nametproc) -- (nbcmp);
\draw[isa] (nametproc) -- (macromet);
\draw[isa] (nbcbp) -- (nbcmp);
\draw[isa] (nbcbp) -- (heterocyclebiosyn);
\draw[isa] (nbcbp) -- (cncbp);
\draw[isa] (nbcbp) -- (acbp);
\draw[isa] (nbcbp) -- (occbp);
\draw[isa] (nbcmp) -- (heterocyclemet);
\draw[isa] (nbcmp) -- (cacmp);
\draw[isa] (nbcmp) -- (cncmp);
\draw[isa] (nbcmp) -- (occmp);
\draw[isa] (heterocyclemet) -- (cellmetproc);
\draw[isa] (heterocyclebiosyn) -- (heterocyclemet);
\draw[isa] (heterocyclebiosyn) -- (cellbiosyn);
\draw[isa] (rnamet) -- (nametproc);
\draw[reg] (reggeneexpr) -- (geneexpr);
\draw[isa] (reggeneexpr) -- (regmacromet);
\draw[isa] (dnamet) -- (nametproc);
\draw[reg] (regrnamet) -- (rnamet);
\draw[isa] (regrnamet) to[bend left=20] (regnbcmp);
\draw[isa] (rnabiosyn) -- (rnamet);
\draw[isa] (rnabiosyn) -- (nbcbp);
\draw[reg] (regdnamet) -- (dnamet);
\draw[isa] (regdnamet) to[bend right=20] (regnbcmp);
\draw[reg] (regrnabiosyn) -- (rnabiosyn);
\draw[isa] (regrnabiosyn) -- (regrnamet);
\draw[isa] (regrnabiosyn) -- (regcellbiosyn);
\draw[isa] (posregrnamet) -- (regrnamet);
\draw[posreg] (posregrnamet) to[bend right=20] (rnamet);
\draw[isa] (posregrnamet) to[bend left=15] (posregnbcmp);
\draw[isa] (natt) -- (rnabiosyn);
\draw[partof] (natt) to[bend right=20] (geneexpr);
\draw[isa] (posregdnamet) -- (regdnamet);
\draw[posreg] (posregdnamet) to[bend right=20] (dnamet);
\draw[isa] (posregdnamet) -- (posregnbcmp);
\draw[isa] (posregrnabiosyn) -- (regrnabiosyn);
\draw[posreg] (posregrnabiosyn) .. controls (6620,-690) and (6650,-640) .. (rnabiosyn);
\draw[isa] (posregrnabiosyn) -- (posregrnamet);
\draw[isa] (posregrnabiosyn) -- (posregcellbiosyn);
\draw[reg] (regnatt) -- (natt);
\draw[isa] (regnatt) -- (regrnabiosyn);
\draw[isa] (dnatt) -- (natt);
\draw[isa] (posregnatt) -- (regnatt);
\draw[posreg] (posregnatt) .. controls (6565,-760) and (6620,-700) .. (natt);
\draw[isa] (posregnatt) -- (posregrnabiosyn);
\draw[reg] (regdnatt) -- (dnatt);
\draw[isa] (regdnatt) -- (regnatt);
\draw[isa] (regdnatt) .. controls (6860,-780) and (6885,-650) .. (reggeneexpr);
\draw[isa] (transrnapol) -- (dnatt);
\draw[isa] (posregdnatt) -- (regdnatt);
\draw[posreg] (posregdnatt) to[bend left=30] (dnatt);
\draw[isa] (posregdnatt) -- (posregnatt);
\draw[reg] (regtransrnapol) -- (transrnapol);
\draw[isa] (regtransrnapol) -- (regdnatt);
\draw[isa] (posregtransrnapol) -- (regtransrnapol);
\draw[posreg] (posregtransrnapol) to[bend right=30] (transrnapol);
\draw[isa] (posregtransrnapol) -- (posregdnatt);
\draw[isa] (posregnbcmp) -- (regnbcmp);
\draw[posreg] (posregnbcmp) .. controls (6760,-420) and (6850,-335) .. (nbcmp);
\draw[isa] (posregnbcmp) -- (posregcellmet);

\draw[isa] (respstim) -- (bp);
\draw[reg] (regrespstim) -- (respstim);
\draw[isa] (regrespstim) -- (regbioproc);
\draw[isa] (respstress) -- (respstim);
\draw[isa] (cellrespstim) -- (respstim);
\draw[isa] (cellrespstim) .. controls (7500,-160) and (7420,-140) .. (cellproc);
\draw[isa] (cellrespstress) -- (cellrespstim);
\draw[isa] (cellrespstress) -- (respstress);
\draw[isa] (dnadamage) -- (cellrespstress);
\draw[isa] (dnarepair) -- (dnadamage);
\draw[isa] (dnarepair) -- (dnamet);
\draw[isa] (dnarecomb) -- (dnamet);
\draw[isa] (ner) -- (dnarepair);
\draw[isa] (dsbr) -- (dnarepair);
\draw[isa] (recombrepair) -- (dnarepair);
\draw[isa] (recombrepair) -- (dnarecomb);
\draw[isa] (dsbrhr) -- (dsbr);
\draw[isa] (dsbrhr) -- (recombrepair);
\draw[isa] (posregrespstim) -- (regrespstim);
\draw[posreg] (posregrespstim) to[bend left=30] (respstim);
\draw[isa] (posregrespstim) -- (posregbioproc);
\draw[reg] (regrespstress) -- (respstress);
\draw[isa] (regrespstress) -- (regrespstim);
\draw[isa] (regcellrespstress) -- (regrespstress);
\draw[reg] (regcellrespstress) -- (cellrespstress);
\draw[isa] (regcellrespstress) -- (regcellproc);
\draw[reg] (regdnarecomb) -- (dnarecomb);
\draw[isa] (regdnarecomb) -- (regdnamet);
\draw[reg] (regdnarepair) -- (dnarepair);
\draw[isa] (regdnarepair) to[bend left=20] (regcellrespstress);
\draw[isa] (regdnarepair) -- (regdnamet);
\draw[isa] (posregdnarecomb) -- (regdnarecomb);
\draw[posreg] (posregdnarecomb) to[bend left=25] (dnarecomb);
\draw[isa] (posregdnarecomb) -- (posregdnamet);
\draw[isa] (posregdnarepair) -- (regdnarepair);
\draw[posreg] (posregdnarepair) to[bend left=25] (dnarepair);
\draw[isa] (posregdnarepair) .. controls (7222,-480) and (7230,-420) .. (posregrespstim);
\draw[isa] (posregdnarepair) -- (posregdnamet);
\draw[reg] (regner) -- (ner);
\draw[isa] (regner) -- (regdnarepair);
\draw[reg] (regdsbr) -- (dsbr);
\draw[isa] (regdsbr) -- (regdnarepair);
\draw[reg] (regdsbrhr) -- (dsbrhr);
\draw[isa] (regdsbrhr) -- (regdsbr);
\draw[isa] (regdsbrhr) .. controls (7200,-830) and (7142,-780) .. (regdnarecomb);
\draw[isa] (posregdsbr) -- (regdsbr);
\draw[posreg] (posregdsbr) -- (dsbr);
\draw[isa] (posregdsbr) -- (posregdnarepair);
\draw[isa] (posregdsbrhr) -- (regdsbrhr);
\draw[isa] (posregdsbrhr) -- (posregdsbr);
\draw[posreg] (posregdsbrhr) to[bend right=20] (dsbrhr);
\draw[isa] (posregdsbrhr) -- (posregdnarecomb);
\end{scope}
\end{tikzpicture}
\end{document}
